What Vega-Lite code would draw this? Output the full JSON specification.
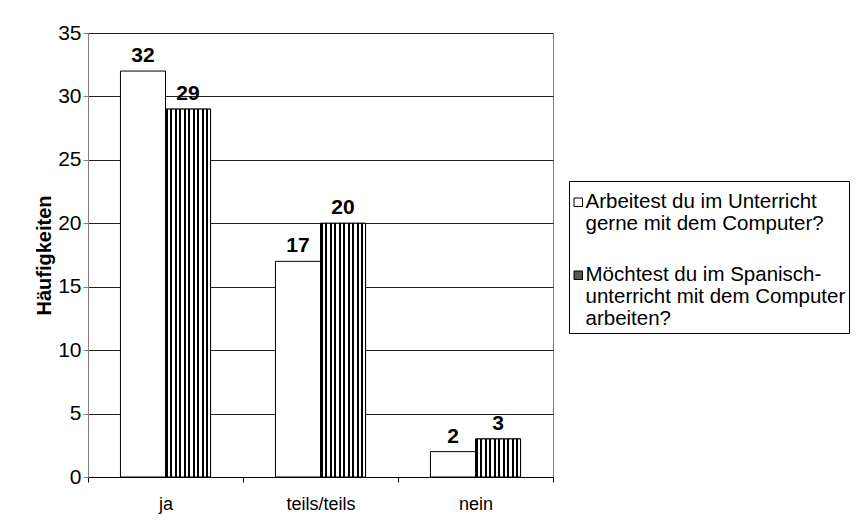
{
  "$schema": "https://vega.github.io/schema/vega-lite/v6.json",
  "width": 465,
  "height": 444,
  "autosize": "none",
  "padding": {"left": 88, "top": 33, "right": 303, "bottom": 54},
  "config": {
    "font": "Liberation Sans",
    "view": {"stroke": "#808080", "strokeWidth": 1}
  },
  "data": {
    "values": [
      {"cat": "ja", "q": "Arbeitest du im Unterricht gerne mit dem Computer?", "n": 32},
      {"cat": "ja", "q": "Möchtest du im Spanisch-unterricht mit dem Computer arbeiten?", "n": 29},
      {"cat": "teils/teils", "q": "Arbeitest du im Unterricht gerne mit dem Computer?", "n": 17},
      {"cat": "teils/teils", "q": "Möchtest du im Spanisch-unterricht mit dem Computer arbeiten?", "n": 20},
      {"cat": "nein", "q": "Arbeitest du im Unterricht gerne mit dem Computer?", "n": 2},
      {"cat": "nein", "q": "Möchtest du im Spanisch-unterricht mit dem Computer arbeiten?", "n": 3}
    ]
  },
  "encoding": {
    "x": {
      "field": "cat", "type": "nominal", "sort": ["ja", "teils/teils", "nein"],
      "scale": {"paddingInner": 0, "paddingOuter": 0},
      "axis": {"title": null, "labelAngle": 0, "labelFontSize": 18, "labelPadding": 13, "labelColor": "#000",
               "tickBand": "extent", "tickSize": 5, "tickColor": "#000", "domainColor": "#000", "grid": false}
    },
    "xOffset": {
      "field": "q", "type": "nominal",
      "sort": ["Arbeitest du im Unterricht gerne mit dem Computer?", "Möchtest du im Spanisch-unterricht mit dem Computer arbeiten?"],
      "scale": {"domain": ["Arbeitest du im Unterricht gerne mit dem Computer?", "Möchtest du im Spanisch-unterricht mit dem Computer arbeiten?"], "paddingOuter": 0.72, "paddingInner": 0}
    },
    "y": {
      "field": "n", "type": "quantitative",
      "scale": {"domain": [0, 35], "nice": false},
      "axis": {"values": [0, 5, 10, 15, 20, 25, 30, 35], "title": "Häufigkeiten", "titleFontSize": 20, "titleFontWeight": "bold",
               "titleColor": "#000", "titlePadding": 3, "labelFontSize": 21, "labelColor": "#000", "labelPadding": 2,
               "tickSize": 5, "tickColor": "#808080", "domainColor": "#808080", "gridColor": "#222", "gridWidth": 1}
    }
  },
  "layer": [
    {
      "mark": {"type": "bar", "stroke": "#000", "strokeWidth": 1},
      "encoding": {
        "fill": {
          "field": "q", "type": "nominal",
          "scale": {
            "domain": ["Arbeitest du im Unterricht gerne mit dem Computer?", "Möchtest du im Spanisch-unterricht mit dem Computer arbeiten?"],
            "range": ["#ffffff", "#555555"]
          },
          "legend": {
            "orient": "none", "legendX": 481, "legendY": 148, "title": " ", "titleFontSize": 2, "titlePadding": 6,
            "strokeColor": "#000", "fillColor": "#fff", "padding": 3,
            "symbolType": "square", "symbolSize": 72, "symbolStrokeColor": "#000", "symbolStrokeWidth": 1,
            "symbolOffset": -4, "labelOffset": -3,
            "labelFontSize": 20.5, "labelColor": "#000", "labelLimit": 400, "rowPadding": 30,
            "labelExpr": "datum.value == 'Arbeitest du im Unterricht gerne mit dem Computer?' ? ['Arbeitest du im Unterricht', 'gerne mit dem Computer?'] : ['Möchtest du im Spanisch-', 'unterricht mit dem Computer', 'arbeiten?']",
            "encode": {"labels": {"update": {"lineHeight": {"value": 22}}}}
          }
        }
      }
    },
    {
      "transform": [{"filter": "datum.q != 'Arbeitest du im Unterricht gerne mit dem Computer?'"}],
      "mark": {"type": "bar", "stroke": "#000", "strokeWidth": 1,
        "fill": {"gradient": "linear", "x1": 0, "y1": 0, "x2": 1, "y2": 0, "stops": [
              {"offset": 0, "color": "#000"}, {"offset": 0.05, "color": "#000"}, {"offset": 0.05, "color": "#fff"}, {"offset": 0.1, "color": "#fff"},
              {"offset": 0.1, "color": "#000"}, {"offset": 0.15, "color": "#000"}, {"offset": 0.15, "color": "#fff"}, {"offset": 0.2, "color": "#fff"},
              {"offset": 0.2, "color": "#000"}, {"offset": 0.25, "color": "#000"}, {"offset": 0.25, "color": "#fff"}, {"offset": 0.3, "color": "#fff"},
              {"offset": 0.3, "color": "#000"}, {"offset": 0.35, "color": "#000"}, {"offset": 0.35, "color": "#fff"}, {"offset": 0.4, "color": "#fff"},
              {"offset": 0.4, "color": "#000"}, {"offset": 0.45, "color": "#000"}, {"offset": 0.45, "color": "#fff"}, {"offset": 0.5, "color": "#fff"},
              {"offset": 0.5, "color": "#000"}, {"offset": 0.55, "color": "#000"}, {"offset": 0.55, "color": "#fff"}, {"offset": 0.6, "color": "#fff"},
              {"offset": 0.6, "color": "#000"}, {"offset": 0.65, "color": "#000"}, {"offset": 0.65, "color": "#fff"}, {"offset": 0.7, "color": "#fff"},
              {"offset": 0.7, "color": "#000"}, {"offset": 0.75, "color": "#000"}, {"offset": 0.75, "color": "#fff"}, {"offset": 0.8, "color": "#fff"},
              {"offset": 0.8, "color": "#000"}, {"offset": 0.85, "color": "#000"}, {"offset": 0.85, "color": "#fff"}, {"offset": 0.9, "color": "#fff"},
              {"offset": 0.9, "color": "#000"}, {"offset": 0.95, "color": "#000"}, {"offset": 0.95, "color": "#fff"}, {"offset": 1, "color": "#fff"}
          ]}
      },
      "encoding": {}
    },
    {
      "mark": {"type": "text", "baseline": "alphabetic", "dy": -9, "fontSize": 21, "fontWeight": "bold", "color": "#000"},
      "encoding": {"text": {"field": "n", "type": "quantitative"}}
    }
  ]
}
